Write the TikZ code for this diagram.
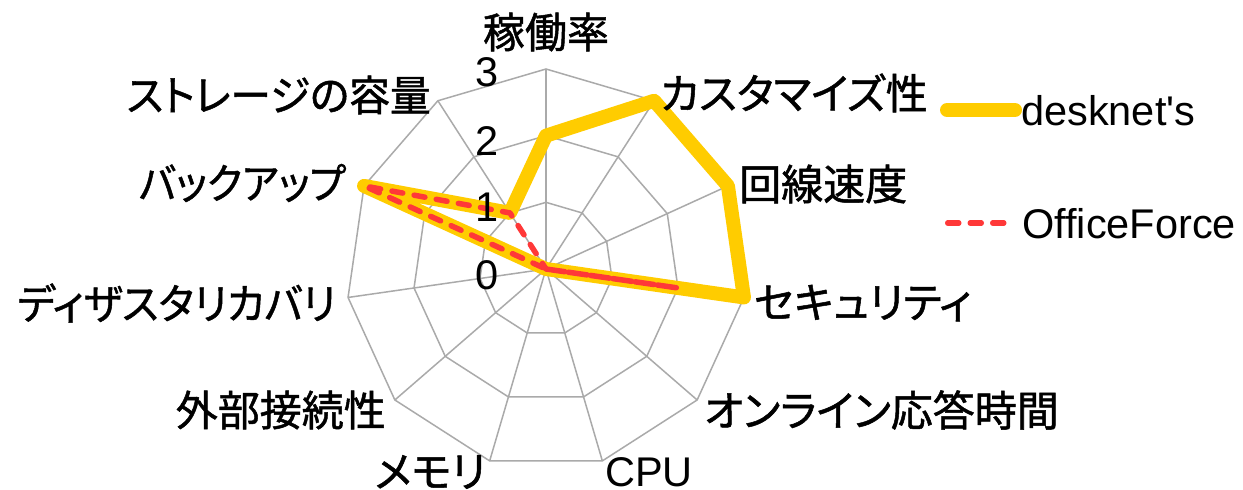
\documentclass[tikz,border=0pt]{standalone}
\usepackage{graphicx}
\usepackage{fontspec}
\setmainfont{Liberation Sans}
\newfontfamily\latinfont{Liberation Sans}
\newfontfamily\jpfont[RawFeature=+palt, FakeBold=1.2]{Noto Sans CJK JP}
\definecolor{dkyellow}{RGB}{255,204,0}
\definecolor{ofred}{RGB}{255,56,56}
\definecolor{gridgray}{RGB}{170,170,170}
\begin{document}
\begin{tikzpicture}[x=1pt,y=-1pt,
  lbl/.style={inner sep=0pt, font=\fontsize{42}{50}\selectfont\jpfont},
  latin/.style={inner sep=0pt, font=\fontsize{41.5}{50}\selectfont\latinfont},
  gridline/.style={draw=gridgray, line width=1.5pt},
  desk/.style={draw=dkyellow, line width=14pt, line join=round, line cap=round},
  office/.style={draw=ofred, line width=5.5pt, dash pattern=on 11pt off 11.5pt, line cap=round, line join=round}]
\useasboundingbox (0,0) rectangle (1243,490);
\fill[white] (0,0) rectangle (1243,490);
\begin{scope}[shift={(546,269)}, y=1pt]
  \coordinate (O) at (0,0);
  \foreach \i in {0,...,10} {
    \pgfmathsetmacro\ang{90-\i*360/11}
    \coordinate (r1-\i) at (\ang:66.667);
    \coordinate (r2-\i) at (\ang:133.333);
    \coordinate (r3-\i) at (\ang:200);
  }
  \foreach \k in {1,2,3} {
    \draw[gridline] (r\k-0) -- (r\k-1) -- (r\k-2) -- (r\k-3) -- (r\k-4) -- (r\k-5) -- (r\k-6) -- (r\k-7) -- (r\k-8) -- (r\k-9) -- (r\k-10) -- cycle;
  }
  \foreach \i in {0,...,10} {
    \draw[gridline] (O) -- (r3-\i);
  }
  % desknet's
  \draw[desk] (r2-0) -- (r3-1) -- (r3-2) -- (r3-3) -- (O) -- (r3-9) -- (r1-10) -- cycle;
  % OfficeForce
  \draw[office] (O) -- (r2-3) -- (O) -- (r3-9) -- (r1-10) -- cycle;
\end{scope}
% tick labels
\node[latin, anchor=base east] (t3) at (499,86) {3};
\node[latin, anchor=base east] (t2) at (499,155) {2};
\node[latin, anchor=base east] (t1) at (499,221) {1};
\node[latin, anchor=base east] (t0) at (499,289) {0};
% axis labels
\node[lbl] (kado) at (546,32) {稼働率};
\node[lbl, anchor=west] (custom) at (660,93) {カスタマイズ性};
\node[lbl, anchor=west] (kaisen) at (739,184) {回線速度};
\node[lbl, anchor=west] (secu) at (754,303) {セキュリティ};
\node[lbl, anchor=west] (online) at (704,410) {オンライン応答時間};
\node[latin, anchor=west] (cpu) at (605,472) {CPU};
\node[lbl, anchor=east] (mem) at (486,472) {メモリ};
\node[lbl, anchor=east] (gaibu) at (386,410) {外部接続性};
\node[lbl, anchor=east] (dr) at (336,303) {\scalebox{0.963}[1]{ディザスタリカバリ}};
\node[lbl, anchor=east] (backup) at (346,183) {\scalebox{0.935}[1]{バックアップ}};
\node[lbl, anchor=east] (storage) at (431,95) {\scalebox{0.971}[1]{ストレージの容量}};
% legend
\coordinate (l1a) at (947,110);
\coordinate (l1b) at (1015,110);
\draw[desk] (l1a) -- (l1b);
\coordinate (l2a) at (947.75,223);
\coordinate (l2b) at (1003.75,223);
\draw[office] (l2a) -- (l2b);
\node[latin, anchor=base west] (leg1) at (1021,125) {desknet's};
\node[latin, anchor=base west] (leg2) at (1022,238) {OfficeForce};
\end{tikzpicture}
\end{document}
